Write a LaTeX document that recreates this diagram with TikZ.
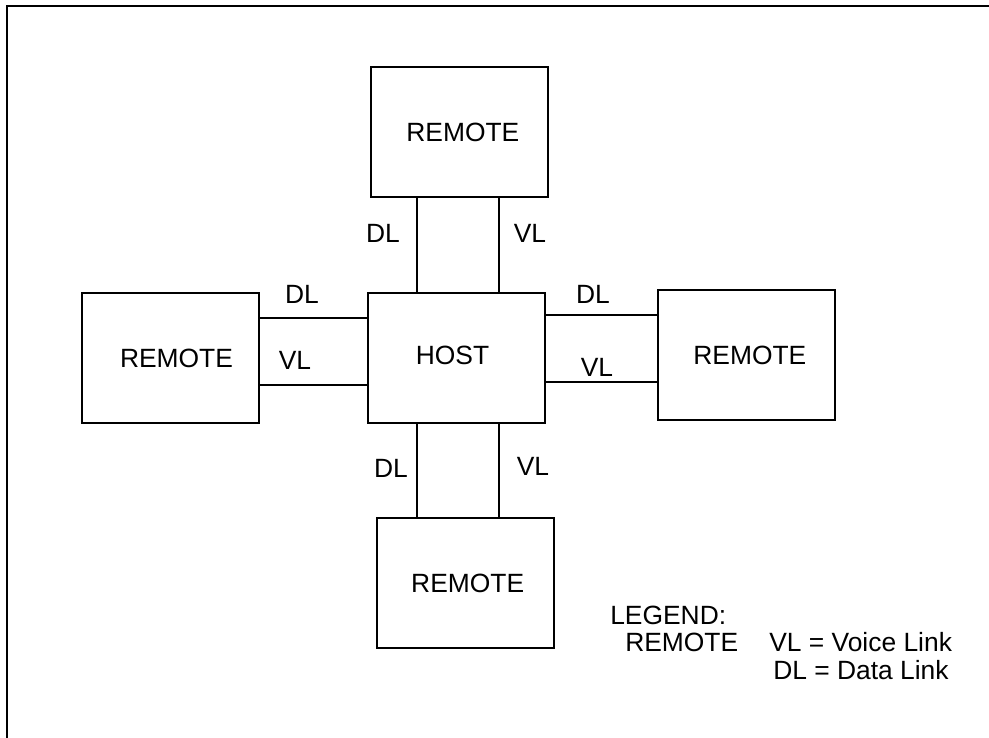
\documentclass[tikz,border=0pt]{standalone}
\usepackage{fontspec}
\setmainfont{Liberation Sans}
\begin{document}
\begin{tikzpicture}[x=0.75pt,y=-0.75pt,
  every node/.style={font=\fontsize{19.8}{23}\selectfont},
  box/.style={draw,line width=1.5pt,minimum width=132.75pt,minimum height=97.5pt,inner sep=0pt,outer sep=0pt},
  link/.style={line width=1.3pt},
  lbl/.style={inner sep=0pt,anchor=center},
  leg/.style={inner sep=0pt,anchor=west}]
\useasboundingbox (0,0) rectangle (989,738);
% frame
\draw[line width=1.5pt] (7,738) -- (7,6) -- (989,6);
% boxes
\node[box] (top) at (459.5,132) {\hspace*{5pt}REMOTE};
\node[box] (host) at (456.5,358) {\raisebox{4pt}{HOST}\hspace*{6pt}};
\node[box] (left) at (170.5,358) {\hspace*{9pt}REMOTE};
\node[box] (right) at (746.5,355) {\hspace*{5pt}REMOTE};
\node[box] (bot) at (465,583) {\hspace*{4pt}REMOTE};
% helper coordinates
\coordinate (xa) at (417,0);
\coordinate (xb) at (499,0);
\coordinate (ya) at (0,318);
\coordinate (yb) at (0,385);
\coordinate (yc) at (0,315);
\coordinate (yd) at (0,382);
% links
\draw[link] (xa |- top.south) -- (xa |- host.north);
\draw[link] (xb |- top.south) -- (xb |- host.north);
\draw[link] (xa |- host.south) -- (xa |- bot.north);
\draw[link] (xb |- host.south) -- (xb |- bot.north);
\draw[link] (left.east |- ya) -- (host.west |- ya);
\draw[link] (left.east |- yb) -- (host.west |- yb);
\draw[link] (host.east |- yc) -- (right.west |- yc);
\draw[link] (host.east |- yd) -- (right.west |- yd);
% labels
\node[lbl] (tdl) at (383,233) {DL};
\node[lbl] (tvl) at (530,233) {VL};
\node[lbl] (ldl) at (302,294) {DL};
\node[lbl] (lvl) at (295,360) {VL};
\node[lbl] (rdl) at (593,294) {DL};
\node[lbl] (rvl) at (597,367) {VL};
\node[lbl] (bdl) at (391,468) {DL};
\node[lbl] (bvl) at (533,466) {VL};
% legend
\node[leg] (lg) at (610,615) {LEGEND:};
\node[leg] (lgr) at (625,642) {REMOTE};
\node[leg] (lgv) at (769,642) {VL = Voice Link};
\node[leg] (lgd) at (773,670) {DL = Data Link};
\end{tikzpicture}
\end{document}
